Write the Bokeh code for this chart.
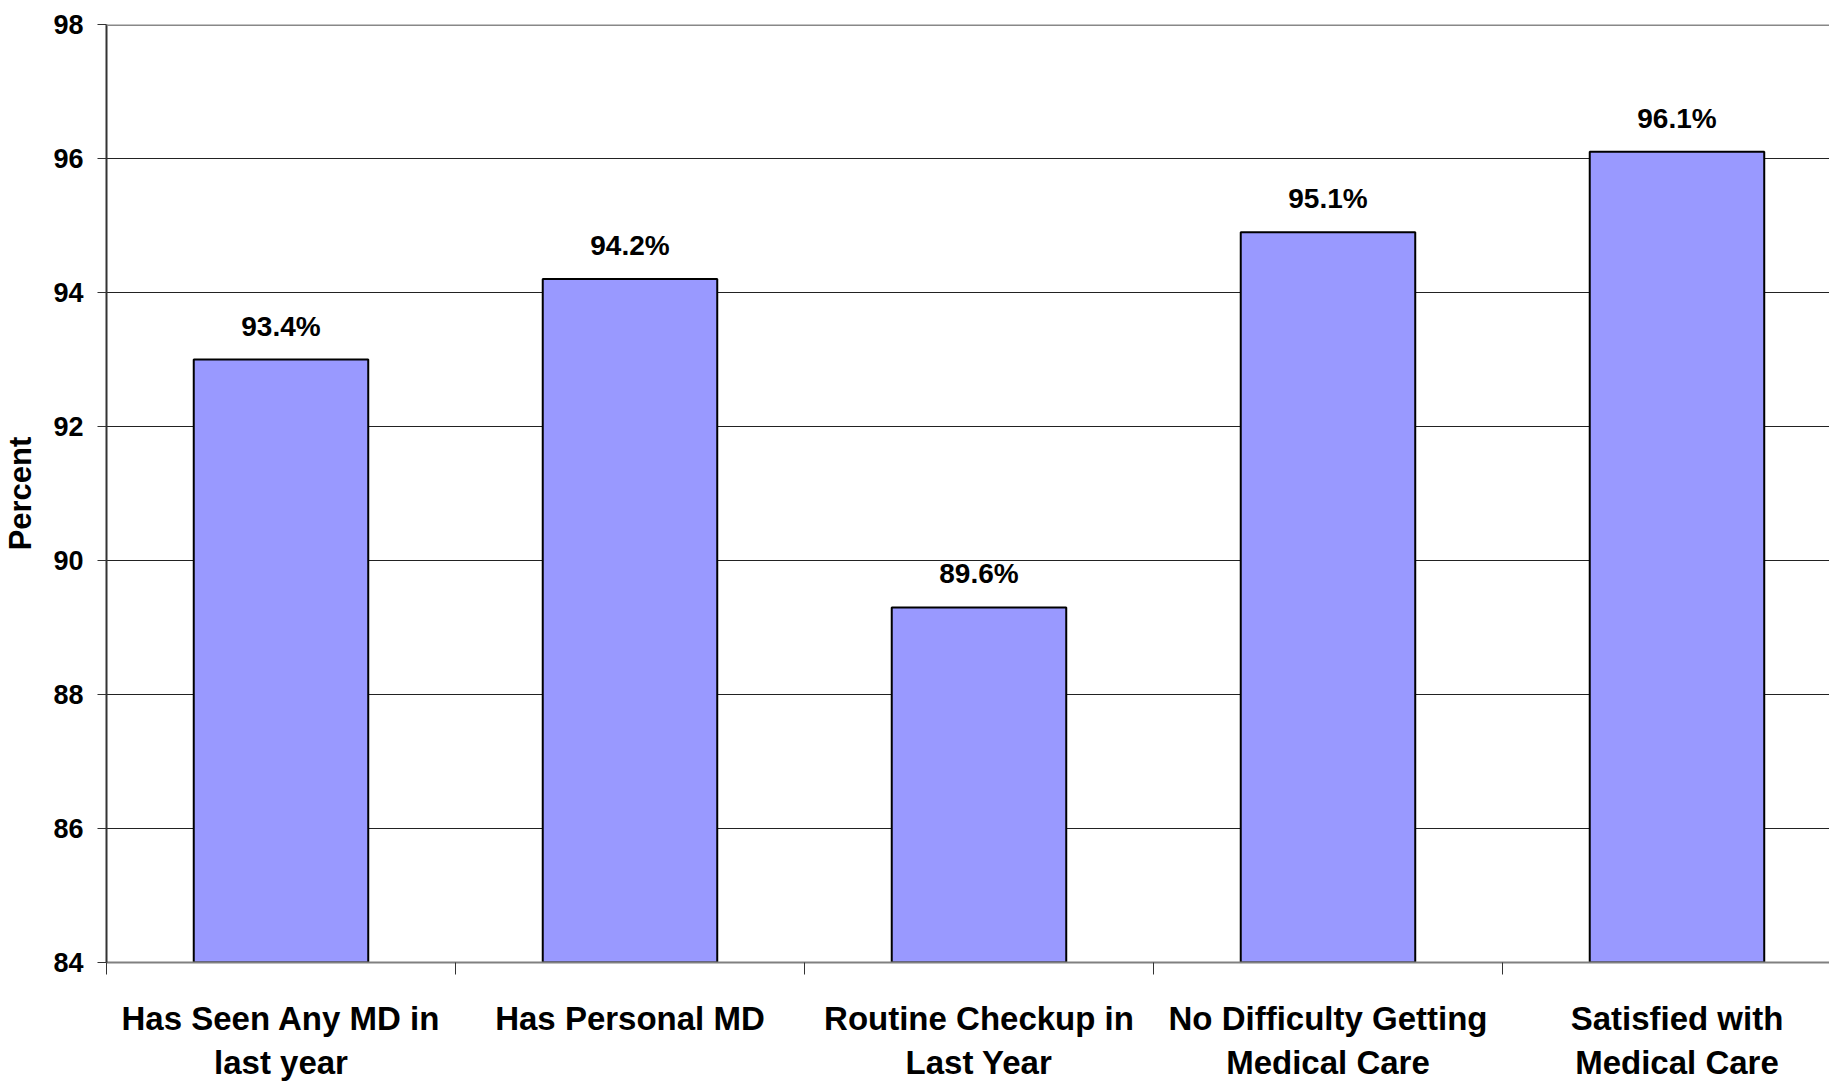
from bokeh.plotting import figure
from bokeh.models import (ColumnDataSource, LabelSet, LinearAxis, FixedTicker,
                          Range1d, Span)
from bokeh.core.properties import value
from bokeh.embed import file_html
from bokeh.resources import INLINE

categories = ["Has Seen Any MD in\nlast year", "Has Personal MD",
              "Routine Checkup in\nLast Year", "No Difficulty Getting\nMedical Care",
              "Satisfied with\nMedical Care"]
bar_values = [93.0, 94.2, 89.3, 94.9, 96.1]
value_labels = ["93.4%", "94.2%", "89.6%", "95.1%", "96.1%"]
y_ticks = [84, 86, 88, 90, 92, 94, 96, 98]

FONT = "Liberation Sans"
n = len(categories)
centers = [i + 0.5 for i in range(n)]
src = ColumnDataSource(dict(x=centers, top=bar_values, lab=value_labels))

p = figure(frame_width=1723, frame_height=938, output_backend="svg",
           toolbar_location=None,
           x_range=Range1d(0, 4.937), y_range=Range1d(84, 98),
           min_border_left=97, min_border_top=24, min_border_bottom=100,
           min_border_right=0, x_axis_location=None)
p.outline_line_color = None
p.background_fill_color = "white"
p.border_fill_color = "white"

p.vbar(x="x", top="top", bottom=84, width=0.5, source=src,
       fill_color="#9999FF", line_color="black", line_width=2)

p.add_layout(LabelSet(x="x", y="top", text="lab", source=src, y_offset=24,
                      text_align="center", text_baseline="alphabetic",
                      text_font=value(FONT), text_font_style="bold",
                      text_font_size="28px", text_color="black"))

# y axis
p.yaxis.ticker = FixedTicker(ticks=y_ticks)
p.yaxis.axis_label = "Percent"
p.yaxis.axis_label_text_font = FONT
p.yaxis.axis_label_text_font_style = "bold"
p.yaxis.axis_label_text_font_size = "31px"
p.yaxis.axis_label_text_color = "black"
p.yaxis.axis_label_standoff = 12
p.yaxis.major_label_text_font = FONT
p.yaxis.major_label_text_font_style = "bold"
p.yaxis.major_label_text_font_size = "27px"
p.yaxis.major_label_text_color = "black"
p.yaxis.major_label_standoff = 14
p.yaxis.axis_line_color = "#333333"
p.yaxis.axis_line_width = 2
p.yaxis.major_tick_line_color = "#333333"
p.yaxis.major_tick_out = 9
p.yaxis.major_tick_in = 0
p.yaxis.minor_tick_line_color = None

p.ygrid.ticker = FixedTicker(ticks=y_ticks)
p.ygrid.grid_line_color = "#222222"
p.ygrid.grid_line_width = 1
p.xgrid.grid_line_color = None

p.add_layout(Span(location=98, dimension="width", line_color="#888888",
                  line_width=3))

# x axis: boundary tick marks
ax_ticks = LinearAxis(ticker=FixedTicker(ticks=list(range(n + 1))),
                      major_label_text_font_size="0px",
                      major_label_text_color=None,
                      axis_line_color="#808080", axis_line_width=2,
                      major_tick_line_color="#333333", major_tick_out=12,
                      major_tick_in=0, minor_tick_line_color=None,
                      major_label_standoff=0)
p.add_layout(ax_ticks, "below")

# x axis: category labels
ax_lab = LinearAxis(ticker=FixedTicker(ticks=centers),
                    major_label_overrides={c: t for c, t in zip(centers, categories)},
                    major_label_text_font=FONT,
                    major_label_text_font_style="bold",
                    major_label_text_font_size="33px",
                    major_label_text_color="black",
                    major_label_standoff=19,
                    axis_line_color=None, major_tick_line_color=None,
                    minor_tick_line_color=None)
p.add_layout(ax_lab, "below")

open("out.html", "w").write(file_html(p, INLINE))
